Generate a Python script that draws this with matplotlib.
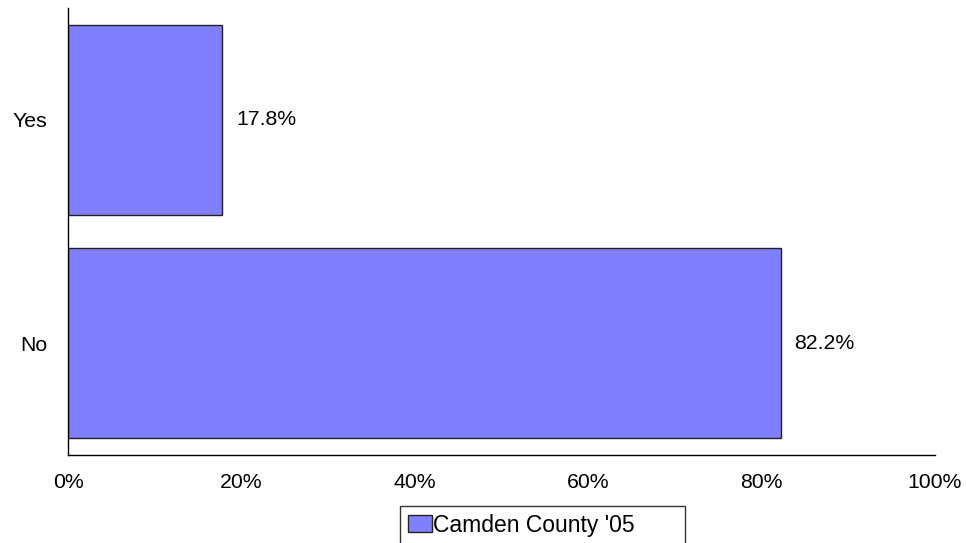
import matplotlib.pyplot as plt

# Datos
categorias = ["No", "Yes"]
valores = [82.2, 17.8]
serie = "Camden County '05"
ticks = [0, 20, 40, 60, 80, 100]

plt.rcParams['font.family'] = ['Liberation Sans', 'DejaVu Sans']

fig = plt.figure(figsize=(9.66, 5.43), dpi=100)
ax = fig.add_axes([68 / 966, 88 / 543, 867 / 966, 447 / 543])

bars = ax.barh(categorias, valores, height=0.85, color="#8080FF",
               edgecolor="#222222", linewidth=1.0, label=serie)

# Etiquetas de valor al final de cada barra
for b, v in zip(bars, valores):
    ax.text(b.get_width() + 1.6, b.get_y() + b.get_height() / 2, f"{v:.1f}%",
            va="center", ha="left", fontsize=15.3)

ax.set_xlim(0, 100)
ax.set_ylim(-0.5, 1.5)
ax.set_xticks(ticks)
ax.set_xticklabels([f"{t}%" for t in ticks])
ax.tick_params(axis="both", length=0, labelsize=15.3)
ax.tick_params(axis="x", pad=13)
ax.tick_params(axis="y", pad=15)
for s in ["top", "right"]:
    ax.spines[s].set_visible(False)
ax.spines["left"].set_linewidth(1.0)
ax.spines["bottom"].set_linewidth(1.0)

# Leyenda (recortada abajo como en el original)
leg = fig.legend(loc="upper left",
                 bbox_to_anchor=(400 / 966, 1 - 511 / 543, 285 / 966, 0.01),
                 mode="expand", fontsize=16.5, frameon=True, fancybox=False,
                 borderaxespad=0, handlelength=1.05, handleheight=0.75,
                 handletextpad=0.05, borderpad=0.35)
leg.get_frame().set_edgecolor("black")
leg.get_frame().set_linewidth(1.0)

fig.savefig("out.png", dpi=100)
